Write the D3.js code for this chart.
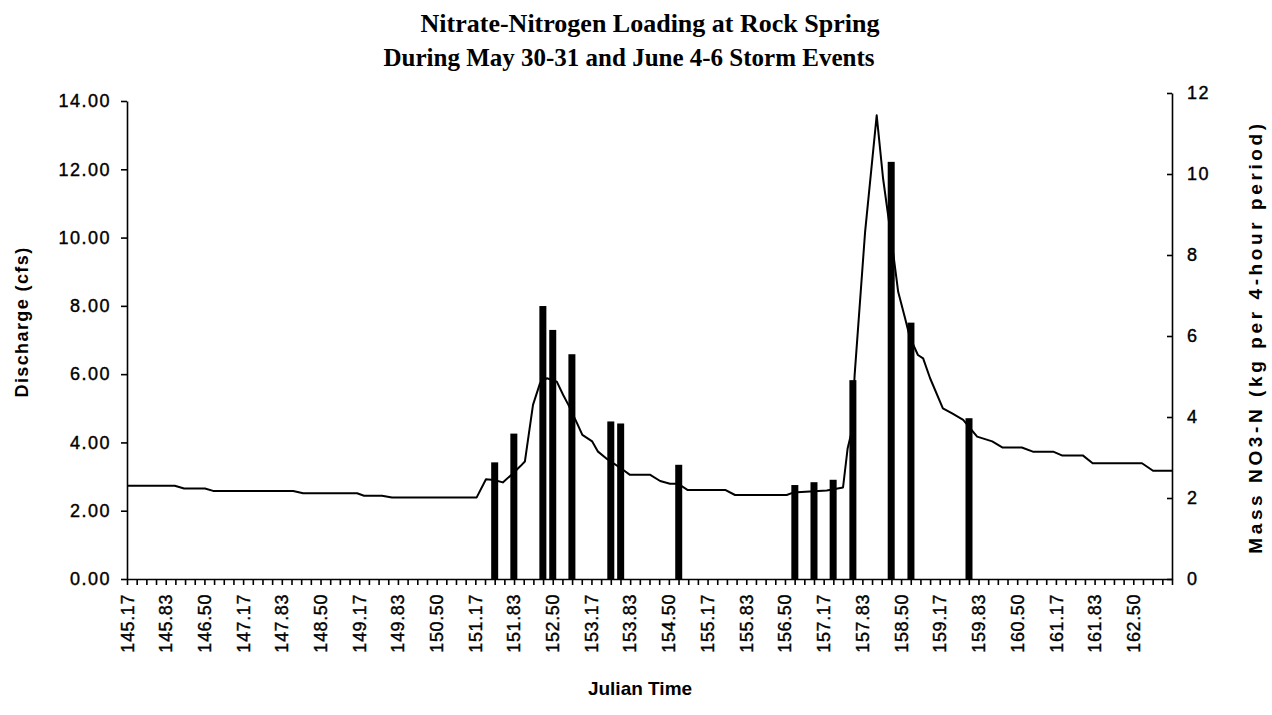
<!DOCTYPE html>
<html>

<head>
    <meta charset="utf-8">
    <script src="https://d3js.org/d3.v7.min.js"></script>
    <style>
        body { margin: 0; background: #fff; }
        text { font-family: "Liberation Sans", Arial, sans-serif; fill: #000; }
    </style>
</head>

<body>
    <script>
        // Discharge line (cfs) at its break points
        var flowTime = [145.17, 145.99, 146.15, 146.51, 146.65, 148.03, 148.20, 149.13, 149.25, 149.56,
            149.73, 151.19, 151.35, 151.49, 151.64, 151.80, 151.94, 152.02, 152.16, 152.28,
            152.40, 152.57, 152.68, 152.77, 152.92, 153.01, 153.18, 153.28, 153.44, 153.71,
            153.83, 154.18, 154.35, 154.52, 154.66, 154.82, 155.47, 155.64, 156.53, 156.64,
            157.22, 157.50, 157.58, 157.65, 157.70, 157.88, 158.08, 158.19, 158.34, 158.45,
            158.57, 158.65, 158.79, 158.88, 159.00, 159.22, 159.38, 159.57, 159.81, 160.07,
            160.25, 160.58, 160.77, 161.12, 161.27, 161.63, 161.80, 162.65, 162.84, 163.17];
        var flowCfs = [2.73, 2.73, 2.65, 2.65, 2.58, 2.58, 2.51, 2.51, 2.44, 2.44,
            2.39, 2.39, 2.92, 2.90, 2.83, 3.07, 3.30, 3.44, 5.10, 5.73,
            5.88, 5.78, 5.39, 5.10, 4.56, 4.22, 4.03, 3.73, 3.51, 3.20,
            3.05, 3.05, 2.87, 2.79, 2.79, 2.61, 2.61, 2.46, 2.46, 2.53,
            2.59, 2.68, 3.83, 4.32, 5.97, 10.16, 13.58, 11.73, 9.87, 8.41,
            7.63, 7.09, 6.56, 6.46, 5.88, 5.00, 4.85, 4.66, 4.17, 4.03,
            3.85, 3.85, 3.73, 3.73, 3.62, 3.62, 3.39, 3.39, 3.17, 3.17];

        // NO3-N mass per 4-hour period (kg)
        var loadTime = [151.50, 151.83, 152.33, 152.50, 152.83, 153.50, 153.67, 154.67,
            156.67, 157.00, 157.33, 157.67, 158.33, 158.67, 159.67];
        var loadKg = [2.88, 3.59, 6.74, 6.15, 5.55, 3.89, 3.84, 2.82,
            2.32, 2.39, 2.45, 4.91, 10.30, 6.33, 3.97];

        var xLabels = ["145.17", "145.83", "146.50", "147.17", "147.83", "148.50", "149.17",
            "149.83", "150.50", "151.17", "151.83", "152.50", "153.17", "153.83", "154.50",
            "155.17", "155.83", "156.50", "157.17", "157.83", "158.50", "159.17", "159.83",
            "160.50", "161.17", "161.83", "162.50"];
        var leftTicks = [0, 2, 4, 6, 8, 10, 12, 14];
        var rightTicks = [0, 2, 4, 6, 8, 10, 12];
    </script>
    <script>
        var width = 1272, height = 715,
            svg = d3.select("body").append("svg").attr("width", width).attr("height", height);

        var t0 = 145 + 1 / 6, t1 = 163 + 1 / 6;

        var xScale = d3.scaleLinear().domain([t0, t1]).range([127, 1172]);
        var yLeft = d3.scaleLinear().domain([0, 14]).range([579, 101]);
        var yRight = d3.scaleLinear().domain([0, 12]).range([579, 93]);

        // one small tick for every 4-hour period
        var minorTicks = d3.range(0, 109).map(function (k) { return t0 + k / 6; });

        var flow = flowTime.map(function (d, i) { return { t: d, v: flowCfs[i] }; });
        var load = loadTime.map(function (d, i) { return { t: d, v: loadKg[i] }; });

        // bars first so the line sits on top
        svg.append("g").selectAll("rect")
            .data(load)
            .enter().append("rect")
            .attr("x", function (d) { return xScale(d.t) - 3.5; })
            .attr("width", 7)
            .attr("y", function (d) { return yRight(d.v); })
            .attr("height", function (d) { return yRight(0) - yRight(d.v); })
            .attr("fill", "#000");

        var lineGenerator = d3.line()
            .x(function (d) { return xScale(d.t); })
            .y(function (d) { return yLeft(d.v); });

        svg.append("path")
            .datum(flow)
            .attr("fill", "none")
            .attr("stroke", "#000")
            .attr("stroke-width", 2)
            .attr("stroke-linejoin", "round")
            .attr("d", lineGenerator);

        // axes
        var xAxis = svg.append("g")
            .attr("transform", "translate(0," + yLeft(0) + ")")
            .call(d3.axisBottom(xScale).tickValues(minorTicks).tickFormat("").tickSize(6).tickSizeOuter(0));

        var leftAxis = svg.append("g")
            .attr("transform", "translate(127,0)")
            .call(d3.axisLeft(yLeft).tickValues(leftTicks).tickFormat(d3.format(".2f"))
                .tickSize(6).tickSizeOuter(0).tickPadding(10));

        var rightAxis = svg.append("g")
            .attr("transform", "translate(1172,0)")
            .call(d3.axisRight(yRight).tickValues(rightTicks).tickFormat(d3.format("d"))
                .tickSizeInner(-5).tickSizeOuter(0).tickPadding(15));

        svg.selectAll(".domain, .tick line")
            .attr("stroke", "#000")
            .attr("stroke-width", 1.6);

        // a thin outline thickens the glyphs like the scanned print
        svg.selectAll(".tick text")
            .attr("fill", "#000")
            .attr("stroke", "#000")
            .attr("stroke-width", 0.4)
            .style("font-size", "18px")
            .style("letter-spacing", "1.5px");

        // rotated category labels under the x axis
        svg.append("g").selectAll("text")
            .data(xLabels)
            .enter().append("text")
            .attr("transform", function (d) { return "translate(" + xScale(+d) + ",594) rotate(-90)"; })
            .attr("text-anchor", "end")
            .attr("dy", "0.36em")
            .attr("stroke", "#000")
            .attr("stroke-width", 0.4)
            .style("font-size", "18px")
            .style("letter-spacing", "0.6px")
            .text(function (d) { return d; });

        // titles
        svg.append("text")
            .attr("x", 650).attr("y", 32)
            .attr("text-anchor", "middle")
            .style("font-family", "'Liberation Serif', 'Times New Roman', serif")
            .style("font-weight", "bold")
            .style("font-size", "26px")
            .text("Nitrate-Nitrogen Loading at Rock Spring");

        svg.append("text")
            .attr("x", 629).attr("y", 66)
            .attr("text-anchor", "middle")
            .style("font-family", "'Liberation Serif', 'Times New Roman', serif")
            .style("font-weight", "bold")
            .style("font-size", "25px")
            .text("During May 30-31 and June 4-6 Storm Events");

        svg.append("text")
            .attr("x", 640).attr("y", 695)
            .attr("text-anchor", "middle")
            .style("font-weight", "bold")
            .style("font-size", "19px")
            .text("Julian Time");

        svg.append("text")
            .attr("transform", "translate(28,322) rotate(-90)")
            .attr("text-anchor", "middle")
            .style("font-weight", "bold")
            .style("font-size", "18px")
            .style("letter-spacing", "1.4px")
            .text("Discharge (cfs)");

        svg.append("text")
            .attr("transform", "translate(1262,337) rotate(-90)")
            .attr("text-anchor", "middle")
            .style("font-weight", "bold")
            .style("font-size", "19px")
            .style("letter-spacing", "3.6px")
            .text("Mass NO3-N (kg per 4-hour period)");
    </script>
</body>

</html>
